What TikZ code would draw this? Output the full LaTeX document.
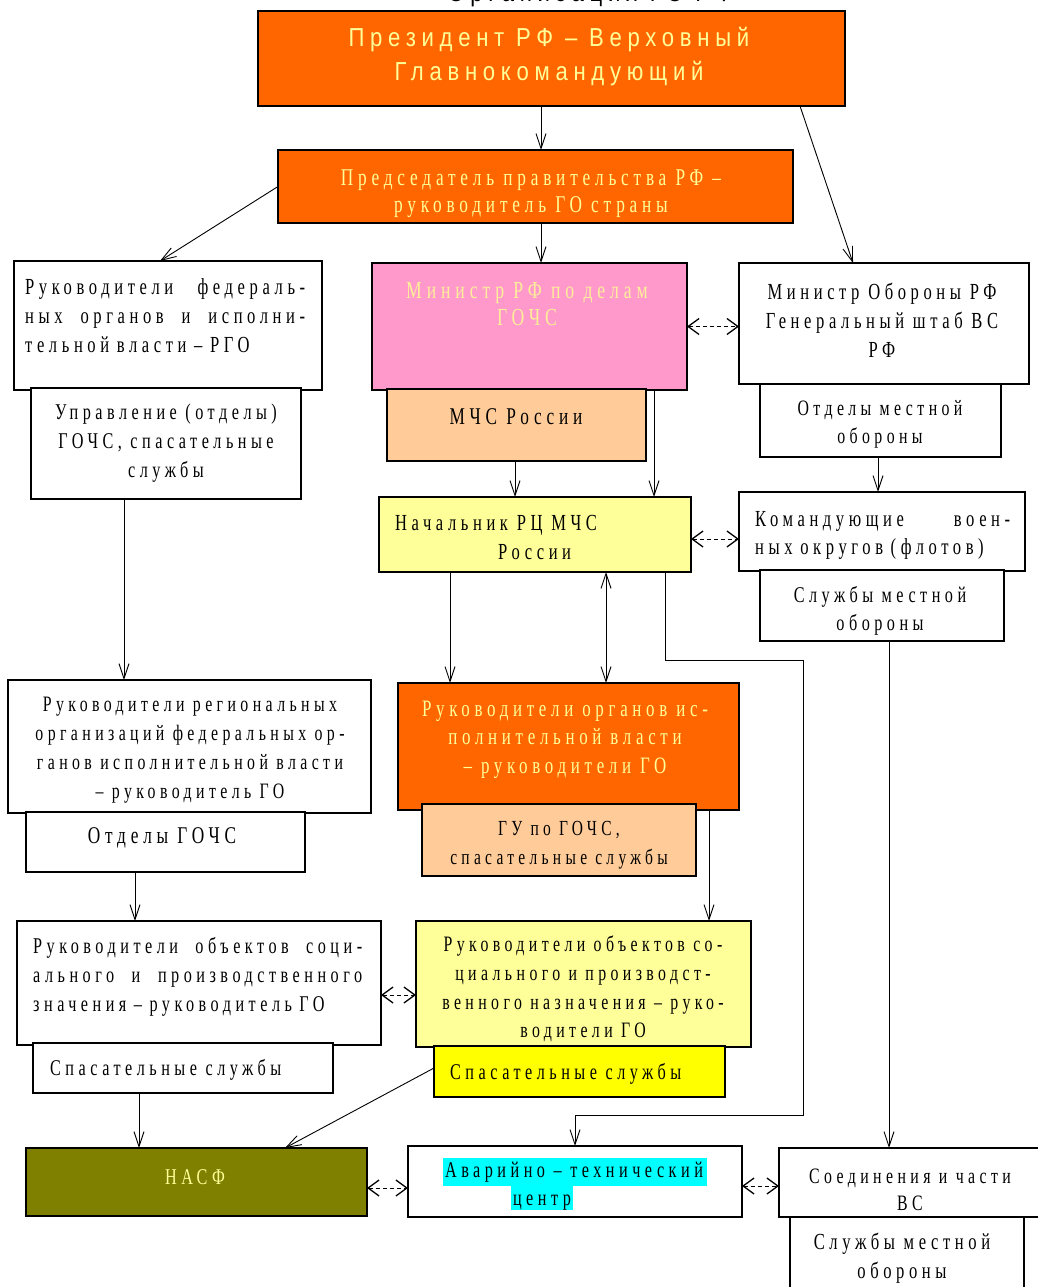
\documentclass[tikz,border=0pt]{standalone}
\usepackage{fontspec}
\setmainfont{Liberation Serif}
\newfontfamily\bodyf{Liberation Serif}[FakeStretch=0.72,LetterSpace=20]
\newfontfamily\headf{Liberation Sans}[FakeStretch=0.85,LetterSpace=22]
\usetikzlibrary{arrows.meta}
\definecolor{orng}{HTML}{FF6600}
\definecolor{pinkc}{HTML}{FF99CC}
\definecolor{peach}{HTML}{FFCC99}
\definecolor{ltyel}{HTML}{FFFF99}
\definecolor{yel}{HTML}{FFFF00}
\definecolor{olivec}{HTML}{808000}
\definecolor{cyanc}{HTML}{00FFFF}
\definecolor{paleyel}{HTML}{FFEE99}
\newcommand\mkbox[6]{\node[bx,#6,minimum width={(#4-#2)*1pt},minimum height={(#5-#3)*1pt}] (#1) at (#2,#3) {};}
\newcommand\fsz[1]{\fontsize{#1}{29}\selectfont}
\tikzset{
  bx/.style={draw=black,line width=1.6pt,inner sep=0pt,outer sep=0pt,anchor=north west},
  txt/.style={font=\bodyf\fsz{22.5},align=center,inner sep=0pt,text=black},
  hd/.style={font=\headf\fontsize{26}{34}\selectfont,align=center,inner sep=0pt},
  arr/.style={line width=0.9pt,-{Straight Barb[length=15pt,width=10pt]}},
  arrb/.style={line width=0.9pt,{Straight Barb[length=15pt,width=10pt]}-{Straight Barb[length=15pt,width=10pt]}},
  darr/.style={line width=0.9pt,dash pattern=on 4pt off 3pt,{Straight Barb[length=11pt,width=16pt,line width=1.3pt]}-{Straight Barb[length=11pt,width=16pt,line width=1.3pt]}}
}
\begin{document}
\begin{tikzpicture}[x=1pt,y=-1pt]
\useasboundingbox (0,0) rectangle (1037,1287);
% boxes
\mkbox{pres}{258}{11}{845}{106}{fill=orng}
\mkbox{pred}{278}{150}{793}{223}{fill=orng}
\mkbox{fed}{14}{261}{322}{390}{fill=white}
\mkbox{upr}{31}{388}{301}{499}{fill=white}
\mkbox{mg}{372}{263}{687}{390}{fill=pinkc}
\mkbox{mchs}{387}{389}{646}{461}{fill=peach}
\mkbox{mo}{739}{263}{1029}{384}{fill=white}
\mkbox{otd}{760}{384}{1001}{457}{fill=white}
\mkbox{nach}{379}{497}{691}{572}{fill=ltyel}
\mkbox{kom}{739}{492}{1025}{571}{fill=white}
\mkbox{slm}{760}{570}{1004}{641}{fill=white}
\mkbox{reg}{8}{680}{371}{813}{fill=white}
\mkbox{otg}{26}{812}{305}{872}{fill=white}
\mkbox{ro}{398}{683}{739}{810}{fill=orng}
\mkbox{gu}{422}{804}{696}{876}{fill=peach}
\mkbox{lob}{17}{921}{381}{1045}{fill=white}
\mkbox{ss1}{33}{1043}{333}{1093}{fill=white}
\mkbox{yob}{416}{921}{751}{1047}{fill=ltyel}
\mkbox{ss2}{434}{1046}{725}{1097}{fill=yel}
\mkbox{nasf}{26}{1148}{367}{1216}{fill=olivec}
\mkbox{avar}{408}{1146}{742}{1217}{fill=white}
\mkbox{soed}{779}{1148}{1045}{1217}{fill=white}
\mkbox{slm2}{790}{1217}{1024}{1295}{fill=white}
% highlight
\fill[cyanc] (443,1158) rectangle (707,1186);
\fill[cyanc] (511,1186) rectangle (573,1210);
% texts
\node[hd,text=black,anchor=base] (ttitle) at (590,2) {Организация ГО РФ};
\node[hd,text=ltyel] (tpres) at (549,57) {Президент РФ – Верховный\\Главнокомандующий};
\node[txt,text=ltyel,font=\bodyf\fontsize{24}{27}\selectfont] (tpred) at (531,193.5) {Председатель правительства РФ –\\руководитель ГО страны};
\node[txt,anchor=west,text width=280pt,align=left,font=\bodyf\fsz{23}] (tfed) at (25,316) {Руководители\hfill федераль-\\ных\hfill органов\hfill и\hfill исполни-\\тельной власти – РГО};
\node[txt] (tupr) at (166,443) {Управление (отделы)\\ГОЧС, спасательные\\службы};
\node[txt,text=paleyel,font=\bodyf\fontsize{24.5}{27}\selectfont] (tmg) at (527,304.5) {Министр РФ по делам\\ГОЧС};
\node[txt,font=\bodyf\fsz{24}] (tmchs) at (516,417) {МЧС России};
\node[txt,font=\bodyf\fsz{23}] (tmo) at (882,320) {Министр Обороны РФ\\Генеральный штаб ВС\\РФ};
\node[txt,font=\bodyf\fontsize{22}{28}\selectfont] (totd) at (880,424) {Отделы местной\\обороны};
\node[txt,anchor=west,align=left,font=\bodyf\fsz{23}] (tnach) at (395,537.5) {Начальник РЦ МЧС\\\hspace*{103pt}России};
\node[txt,anchor=west,text width=255pt,align=left,font=\bodyf\fontsize{23}{28}\selectfont] (tkom) at (755,535) {Командующие\hfill воен-\\ных округов (флотов)};
\node[txt,font=\bodyf\fontsize{22.5}{28}\selectfont] (tslm) at (880,611) {Службы местной\\обороны};
\node[txt,font=\bodyf\fsz{22}] (treg) at (190,750.5) {Руководители региональных\\организаций федеральных ор-\\ганов исполнительной власти\\– руководитель ГО};
\node[txt,font=\bodyf\fsz{24}] (totg) at (162,838) {Отделы ГОЧС};
\node[txt,text=ltyel,font=\bodyf\fontsize{23.5}{28.5}\selectfont] (tro) at (565,739.5) {Руководители органов ис-\\полнительной власти\\– руководители ГО};
\node[txt,font=\bodyf\fsz{21.5}] (tgu) at (559,845.5) {ГУ по ГОЧС,\\спасательные службы};
\node[txt,anchor=west,text width=329pt,align=left] (tlob) at (33,976.5) {Руководители\hfill объектов\hfill соци-\\ального\hfill и\hfill производственного\\значения – руководитель ГО};
\node[txt,anchor=west] (tss1) at (50,1070) {Спасательные службы};
\node[txt,font=\bodyf\fontsize{22}{28.7}\selectfont] (tyob) at (583,989) {Руководители объектов со-\\циального и производст-\\венного назначения – руко-\\водители ГО};
\node[txt,anchor=west] (tss2) at (450,1074) {Спасательные службы};
\node[txt,text=ltyel] (tnasf) at (195,1177) {НАСФ};
\node[txt,font=\bodyf\fontsize{22.5}{28}\selectfont] (tavar) at (574,1186) {Аварийно – технический\\центр\hspace*{64pt}};
\node[txt,font=\bodyf\fontsize{22}{27}\selectfont] (tsoed) at (910,1189.5) {Соединения и части\\ВС};
\node[txt,font=\bodyf\fsz{23}] (tslm2) at (902,1258.5) {Службы местной\\обороны};
% connectors
\draw[arr] ([xshift=-10.5pt]pres.south) -- ([xshift=5.5pt]pred.north);
\draw[arr] ([xshift=-45pt]pres.south east) -- ([xshift=-31pt]mo.north);
\draw[arr] (pred.west) -- ([xshift=-8pt]fed.north);
\draw[arr] ([xshift=5.5pt]pred.south) -- ([xshift=11.5pt]mg.north);
\draw[darr] (mg.east) -- (mg.east -| mo.west);
\draw[arr] ([xshift=-1.5pt]mchs.south) -- ([xshift=-20pt]nach.north);
\draw[arr] ([xshift=124.5pt]mg.south) -- ([xshift=119pt]nach.north);
\draw[arr] ([xshift=-2.5pt]otd.south) -- ([xshift=-4pt]kom.north);
\draw[darr] ([yshift=-4.5pt]nach.east) -- ([yshift=-7.5pt]kom.west);
\draw[arr] ([xshift=7pt]slm.south) -- ([xshift=-23pt]soed.north);
\draw[arr] ([xshift=-42pt]upr.south) -- ([xshift=-65.5pt]reg.north);
\draw[arr] ([xshift=-85pt]nach.south) -- ([xshift=-118.5pt]ro.north);
\draw[arrb] ([xshift=71pt]nach.south) -- ([xshift=37.5pt]ro.north);
\draw[arr] ([xshift=130pt]nach.south) -- ++(0,88) -- ++(138,0) -- ++(0,455) -- ++(-228,0) -- (avar.north);
\draw[arr] ([xshift=140.5pt]ro.south) -- ([xshift=125.5pt]yob.north);
\draw[arr] ([xshift=-30.5pt]otg.south) -- ([xshift=-64pt]lob.north);
\draw[darr] ([yshift=-12pt]lob.east) -- ([yshift=-11pt]yob.west);
\draw[arr] ([xshift=-44pt]ss1.south) -- ([xshift=-57.5pt]nasf.north);
\draw[arr] ([yshift=3.5pt]ss2.west) -- ([xshift=88.5pt]nasf.north);
\draw[darr] ([yshift=-6pt]nasf.east) -- ([yshift=-6.5pt]avar.west);
\draw[darr] ([yshift=-4.5pt]avar.east) -- ([yshift=-3.5pt]soed.west);
\end{tikzpicture}
\end{document}
